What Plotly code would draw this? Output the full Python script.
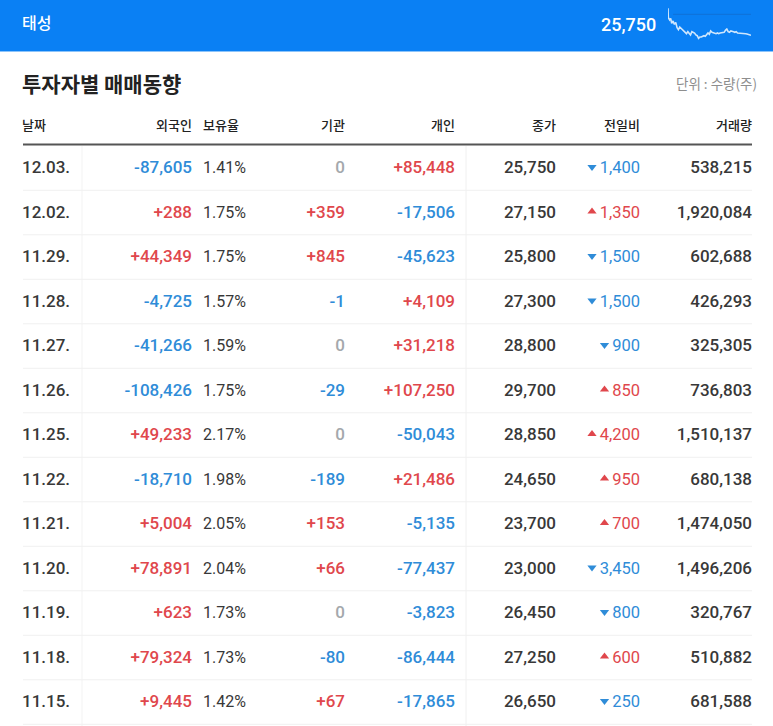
import plotly.graph_objects as go

# Table values
dates = ["12.03.", "12.02.", "11.29.", "11.28.", "11.27.", "11.26.", "11.25.",
         "11.22.", "11.21.", "11.20.", "11.19.", "11.18.", "11.15."]
foreign = [-87605, 288, 44349, -4725, -41266, -108426, 49233,
           -18710, 5004, 78891, 623, 79324, 9445]
holding = ["1.41%", "1.75%", "1.75%", "1.57%", "1.59%", "1.75%", "2.17%",
           "1.98%", "2.05%", "2.04%", "1.73%", "1.73%", "1.42%"]
institution = [0, 359, 845, -1, 0, -29, 0, -189, 153, 66, 0, -80, 67]
individual = [85448, -17506, -45623, 4109, 31218, 107250, -50043,
              21486, -5135, -77437, -3823, -86444, -17865]
close = [25750, 27150, 25800, 27300, 28800, 29700, 28850,
         24650, 23700, 23000, 26450, 27250, 26650]
change = [-1400, 1350, -1500, -1500, -900, 850, 4200,
          950, 700, -3450, -800, 600, -250]
volume = [538215, 1920084, 602688, 426293, 325305, 736803, 1510137,
          680138, 1474050, 1496206, 320767, 510882, 681588]
headers = ["날짜", "외국인", "보유율", "기관", "개인", "종가", "전일비", "거래량"]

# Sparkline in the top bar (time step, level)
spark_t = [25, 26, 30, 33, 36, 40, 44, 48, 52, 56, 60, 64, 68, 72, 76, 80, 84, 88, 92, 96,
           100, 104, 108, 112, 116, 120, 124, 128, 132, 136, 140, 144, 148, 152, 156, 160,
           164, 168, 172, 176, 180, 184, 188, 192, 196, 200, 204, 208, 212, 216, 220, 224,
           228, 232, 236, 240, 244, 248, 252, 256, 260, 264, 268, 272]
spark_v = [10, 38, 45, 40, 55, 48, 58, 52, 68, 74, 66, 70, 72, 78, 82, 86, 80, 84, 90, 80,
           82, 84, 90, 92, 100, 96, 96, 94, 92, 94, 88, 84, 88, 78, 82, 84,
           85, 86, 84, 86, 84, 84, 82, 82, 76, 72, 80, 82, 78, 78, 80, 82,
           80, 84, 84, 84, 85, 86, 85, 86, 87, 89, 90, 91]
spark_ref = [28, 28]
spark_ref_t = [40, 272]

W, H = 773, 726
ROW0, STEP = 169, 44.5
row_y = [ROW0 + STEP * i for i in range(len(dates))]

RED, BLUE, GREY, DARK = "#E0474C", "#2F8CD8", "#A4A8AC", "#383838"
NUM_FONT = "Roboto, 'Noto Sans CJK KR'"
KR_FONT = "'Noto Sans CJK KR', Roboto"


def signed(v):
    return f"{v:+,}" if v else "0"


def sign_color(v):
    return RED if v > 0 else BLUE if v < 0 else GREY


def text_col(x, labels, colors, size=17, pos="middle left", weight=500):
    return go.Scatter(x=[x] * len(labels), y=row_y, mode="text", text=labels,
                      textposition=pos, showlegend=False, hoverinfo="skip",
                      textfont=dict(family=NUM_FONT, size=size, color=colors, weight=weight))


fig = go.Figure()
fig.add_trace(text_col(22, dates, DARK, pos="middle right"))
fig.add_trace(text_col(192, [signed(v) for v in foreign], [sign_color(v) for v in foreign]))
fig.add_trace(text_col(203, holding, DARK, size=16, pos="middle right", weight=400))
fig.add_trace(text_col(345, [signed(v) for v in institution], [sign_color(v) for v in institution]))
fig.add_trace(text_col(455, [signed(v) for v in individual], [sign_color(v) for v in individual]))
fig.add_trace(text_col(556, [f"{v:,}" for v in close], DARK))
fig.add_trace(text_col(640, [f"{abs(v):,}" for v in change], [sign_color(v) for v in change], size=16.5, weight=400))
fig.add_trace(text_col(752, [f"{v:,}" for v in volume], DARK))

# Up / down arrows, placed just left of the change label
arrow_x = [592 if abs(v) >= 1000 else 604.5 for v in change]
fig.add_trace(go.Scatter(
    x=arrow_x, y=[y - 2 for y in row_y], mode="markers", showlegend=False, hoverinfo="skip",
    marker=dict(size=8, line_width=0, color=[sign_color(v) for v in change],
                symbol=["triangle-up" if v > 0 else "triangle-down" for v in change]),
))

# Column headers
header_x = [22, 192, 203, 345, 455, 556, 640, 752]
header_pos = ["middle right", "middle left", "middle right"] + ["middle left"] * 5
fig.add_trace(go.Scatter(
    x=header_x, y=[127] * len(headers), mode="text", text=headers, textposition=header_pos,
    showlegend=False, hoverinfo="skip",
    textfont=dict(family=KR_FONT, size=13, color="#222222", weight=500),
))

# Sparkline on its own small axes
fig.add_trace(go.Scatter(x=spark_ref_t, y=spark_ref, mode="lines", xaxis="x2", yaxis="y2",
                         line=dict(color="rgba(30,80,150,0.3)", width=1),
                         showlegend=False, hoverinfo="skip"))
fig.add_trace(go.Scatter(x=spark_t, y=spark_v, mode="lines", xaxis="x2", yaxis="y2",
                         line=dict(color="rgba(255,255,255,0.8)", width=1.6),
                         showlegend=False, hoverinfo="skip"))

shapes = [
    dict(type="rect", x0=0, x1=W, y0=0, y1=51, fillcolor="#0A80F4", line_width=0, layer="below"),
    dict(type="rect", x0=0, x1=W, y0=51, y1=52, fillcolor="#8CC4FA", line_width=0, layer="below"),
    dict(type="line", x0=23, x1=752, y0=144.5, y1=144.5, line=dict(color="#555555", width=2), layer="below"),
    dict(type="line", x0=82, x1=82, y0=146, y1=H, line=dict(color="#F3F3F3", width=1), layer="below"),
    dict(type="line", x0=466, x1=466, y0=146, y1=H, line=dict(color="#F0F0F0", width=1), layer="below"),
]
for y in row_y:
    shapes.append(dict(type="line", x0=23, x1=752, y0=y - 1 + STEP / 2, y1=y - 1 + STEP / 2,
                       line=dict(color="#F0F0F0", width=1), layer="below"))

annotations = [
    dict(x=21, y=22, text="태성", font=dict(family=KR_FONT, size=16, color="white", weight=500), xanchor="left"),
    dict(x=657, y=24, text="25,750", font=dict(family=NUM_FONT, size=18, color="white", weight=500), xanchor="right"),
    dict(x=21, y=83, text="투자자별 매매동향", font=dict(family=KR_FONT, size=21, color="#222222", weight=700), xanchor="left"),
    dict(x=758, y=83, text="단위 : 수량(주)", font=dict(family=KR_FONT, size=13.5, color="#8E8E8E"), xanchor="right"),
]
for a in annotations:
    a.update(xref="x", yref="y", yanchor="middle", showarrow=False, xshift=0, borderpad=0)

fig.update_layout(
    width=W, height=H, margin=dict(l=0, r=0, t=0, b=0),
    paper_bgcolor="white", plot_bgcolor="rgba(0,0,0,0)",
    shapes=shapes, annotations=annotations, showlegend=False,
    xaxis=dict(range=[0, W], visible=False, fixedrange=True),
    yaxis=dict(range=[H, 0], visible=False, fixedrange=True),
    xaxis2=dict(range=[25, 272], domain=[668 / W, 751 / W], anchor="y2", visible=False),
    yaxis2=dict(range=[120, 0], domain=[1 - 45 / H, 1 - 5 / H], anchor="x2", visible=False),
)

# the page has a default body margin, drop it so the figure sits at 0,0
fig.write_html("out.html", config=dict(displayModeBar=False),
               post_script="document.body.style.margin='0';document.documentElement.style.overflow='hidden';")
